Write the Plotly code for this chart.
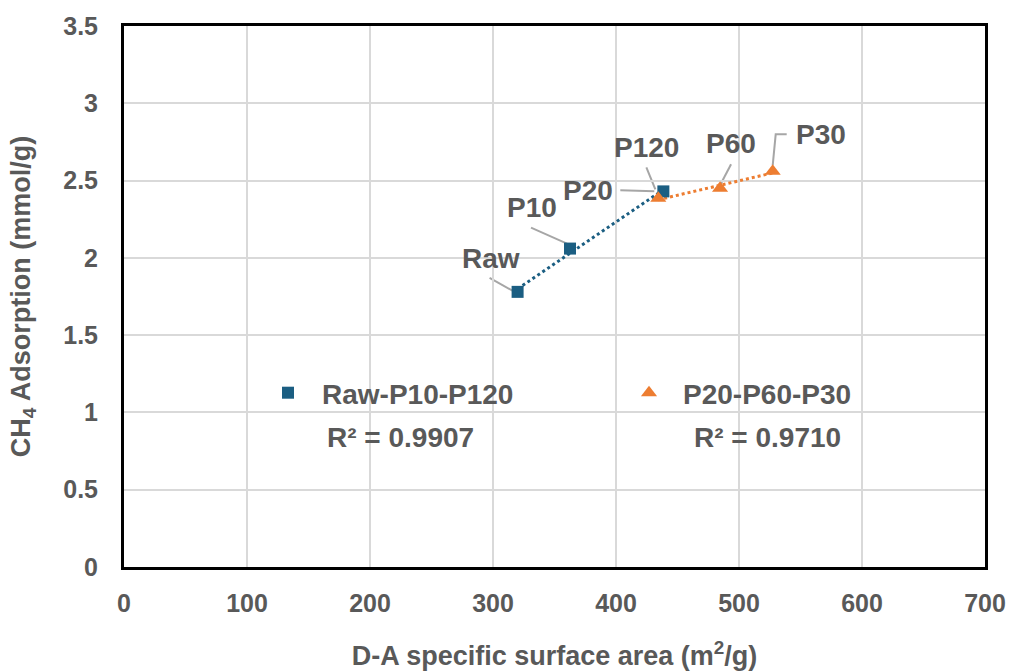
import numpy as np
import plotly.graph_objects as go

# D-A specific surface area (m2/g) and CH4 adsorption (mmol/g)
series_a_name = "Raw-P10-P120"
series_a_labels = ["Raw", "P10", "P120"]
series_a_x = [320, 362.6, 438.5]
series_a_y = [1.78, 2.06, 2.43]

series_b_name = "P20-P60-P30"
series_b_labels = ["P20", "P60", "P30"]
series_b_x = [434.4, 484.6, 527.4]
series_b_y = [2.385, 2.45, 2.56]

r2_a_text = "R² = 0.9907"
r2_b_text = "R² = 0.9710"

x_ticks = [0, 100, 200, 300, 400, 500, 600, 700]
y_ticks = [0, 0.5, 1, 1.5, 2, 2.5, 3, 3.5]
y_tick_text = ["0", "0.5", "1", "1.5", "2", "2.5", "3", "3.5"]

BLUE = "#1B5E82"
ORANGE = "#ED7D31"
GREY_TEXT = "#595959"
FONT = "Liberation Sans"

# plot-area geometry in pixels
PL, PR, PT, PB = 124, 985, 26, 567
W, H = 1011, 671

fig = go.Figure()


def trend(xs, ys):
    k, b = np.polyfit(xs, ys, 1)
    tx = np.array([min(xs), max(xs)])
    return tx, k * tx + b


tax, tay = trend(series_a_x, series_a_y)
tbx, tby = trend(series_b_x, series_b_y)

fig.add_trace(go.Scatter(x=tax, y=tay, mode="lines", showlegend=False,
                         line=dict(color=BLUE, width=3, dash="dot"), hoverinfo="skip"))
fig.add_trace(go.Scatter(x=tbx, y=tby, mode="lines", showlegend=False,
                         line=dict(color=ORANGE, width=3, dash="dot"), hoverinfo="skip"))

fig.add_trace(go.Scatter(x=series_a_x, y=series_a_y, mode="markers", name=series_a_name,
                         marker=dict(symbol="square", size=12, color=BLUE)))
fig.add_trace(go.Scatter(x=series_b_x, y=series_b_y, mode="markers", name=series_b_name,
                         marker=dict(symbol="triangle-up", size=14, color=ORANGE)))

# label offsets (pixels, y up) and leader-line paths relative to each point
label_style = {
    "Raw": dict(dx=-27, dy=33, path="M -28 14 L -3 0"),
    "P10": dict(dx=-38, dy=41, path="M -39 21 L -3 5"),
    "P120": dict(dx=-17, dy=44, path="M -17 24 L -8 2"),
    "P20": dict(dx=-70, dy=8, path="M -38 8 L -4 7"),
    "P60": dict(dx=11, dy=45, path="M 11 24 L 0 3"),
    "P30": dict(dx=48, dy=37, path="M 14 37 L 3 37 L 0 6"),
}

for labels, xs, ys in [(series_a_labels, series_a_x, series_a_y),
                       (series_b_labels, series_b_x, series_b_y)]:
    for lab, xv, yv in zip(labels, xs, ys):
        st = label_style[lab]
        fig.add_annotation(x=xv, y=yv, text=lab, showarrow=False,
                           xshift=st["dx"], yshift=st["dy"],
                           font=dict(family=FONT, size=28, color=GREY_TEXT, weight="bold"))
        fig.add_shape(type="path", xref="x", yref="y", xsizemode="pixel", ysizemode="pixel",
                      xanchor=xv, yanchor=yv, path=st["path"],
                      line=dict(color="#A6A6A6", width=2), layer="below")

r2_font = dict(family=FONT, size=28, color=GREY_TEXT, weight="bold")
for txt, cx in [(r2_a_text, 400), (r2_b_text, 767)]:
    fig.add_annotation(xref="paper", yref="paper", x=(cx - PL) / (PR - PL), y=(PB - 437) / (PB - PT),
                       xanchor="center", yanchor="middle", text=txt, showarrow=False, font=r2_font)

tick_font = dict(family=FONT, size=25, color=GREY_TEXT, weight="bold")
title_font = dict(family=FONT, size=27, color=GREY_TEXT, weight="bold")

fig.update_layout(
    width=W, height=H,
    margin=dict(l=PL, r=W - PR, t=PT, b=H - PB, autoexpand=False),
    plot_bgcolor="white", paper_bgcolor="white",
    font=dict(family=FONT, color=GREY_TEXT),
    showlegend=True,
    legend=dict(orientation="h", x=(254 - PL) / (PR - PL), y=(PB - 393) / (PB - PT),
                xanchor="left", yanchor="middle", bgcolor="rgba(0,0,0,0)",
                font=dict(family=FONT, size=28, color=GREY_TEXT, weight="bold"),
                entrywidth=288, entrywidthmode="pixels", itemwidth=58),
    xaxis=dict(range=[0, 700], tickvals=x_ticks, showgrid=True, gridcolor="#D9D9D9", gridwidth=2,
               zeroline=False, showline=True, linecolor="black", linewidth=3, mirror=True,
               ticks="", tickfont=tick_font, ticklabelstandoff=12, automargin=False,
               title=dict(text="D-A specific surface area (m<sup>2</sup>/g)", font=title_font, standoff=37)),
    yaxis=dict(range=[0, 3.5], tickvals=y_ticks, ticktext=y_tick_text, showgrid=True,
               gridcolor="#D9D9D9", gridwidth=2, zeroline=False, showline=True, linecolor="black",
               linewidth=3, mirror=True, ticks="", tickfont=tick_font, ticklabelstandoff=18,
               automargin=False,
               title=dict(text="CH<sub>4</sub> Adsorption (mmol/g)", font=title_font, standoff=25)),
)

fig.write_html("out.html")
